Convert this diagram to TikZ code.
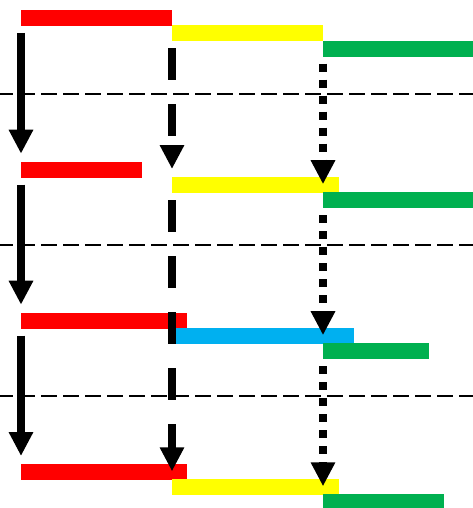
\documentclass[tikz,border=0pt]{standalone}
\usetikzlibrary{arrows.meta}
\definecolor{barred}{HTML}{FF0000}
\definecolor{baryellow}{HTML}{FFFF00}
\definecolor{bargreen}{HTML}{00B050}
\definecolor{barblue}{HTML}{00B0F0}
\begin{document}
\begin{tikzpicture}[x=1pt,y=-1pt,
    bar/.style={anchor=north west,inner sep=0pt,outer sep=0pt,minimum height=16pt},
    handoff/.style={line width=8pt,-{Triangle[length=24pt,width=23pt]},shorten <=7pt,shorten >=8pt},
    dashhandoff/.style={handoff,dash pattern=on 32pt off 24pt},
    dothandoff/.style={handoff,dash pattern=on 8pt off 8pt},
    divider/.style={line width=2pt,dash pattern=on 16pt off 6pt,dash phase=3pt}]
  \useasboundingbox (0,0) rectangle (473,508);

  \node(r1) at (21,10.0) [bar,fill=barred,minimum width=151pt] {};
  \node(y1) at (172,25.3) [bar,fill=baryellow,minimum width=151pt] {};
  \node(g1) at (323,40.7) [bar,fill=bargreen,minimum width=150pt] {};

  \node(r2) at (21,161.7) [bar,fill=barred,minimum width=121pt] {};
  \node(y2) at (172,177.0) [bar,fill=baryellow,minimum width=166.7pt] {};
  \node(g2) at (323,192.2) [bar,fill=bargreen,minimum width=150pt] {};

  \node(r3) at (21,312.7) [bar,fill=barred,minimum width=166pt] {};
  \node(b3) at (172,328.0) [bar,fill=barblue,minimum width=181.7pt] {};
  \node(g3) at (323,343.2) [bar,fill=bargreen,minimum width=106pt] {};

  \node(r4) at (21,464.0) [bar,fill=barred,minimum width=166pt] {};
  \node(y4) at (172,479.3) [bar,fill=baryellow,minimum width=166.7pt] {};
  \node(g4) at (323,494.3) [bar,fill=bargreen,minimum width=121pt] {};

  \draw[divider] (0,94) -- (473,94);
  \draw[divider] (0,245) -- (473,245);
  \draw[divider] (0,396) -- (473,396);

  \draw (r1.south west) edge[handoff] (r2.north west);
  \draw (r2.south west) edge[handoff] (r3.north west);
  \draw (r3.south west) edge[handoff] (r4.north west);

  \draw (y1.south west) edge[dashhandoff] (y2.north west);
  \draw (y2.south west) edge[dashhandoff] (y4.north west);

  \draw (g1.south west) edge[dothandoff] (g2.north west);
  \draw (g2.south west) edge[dothandoff] (g3.north west);
  \draw (g3.south west) edge[dothandoff] (g4.north west);
\end{tikzpicture}
\end{document}
